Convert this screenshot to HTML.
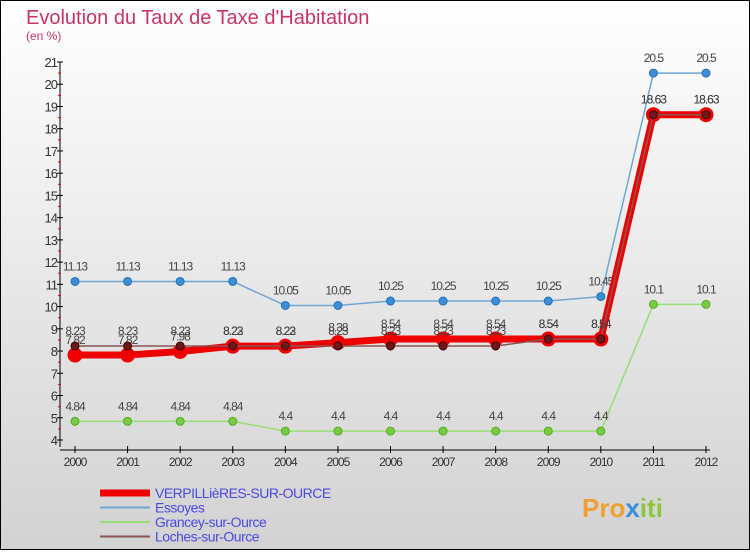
<!DOCTYPE html>
<html><head><meta charset="utf-8"><style>
body{margin:0}
svg text{font-family:"Liberation Sans","DejaVu Sans",sans-serif}
</style></head><body>
<svg width="750" height="550" xmlns="http://www.w3.org/2000/svg">
<defs><linearGradient id="bg" x1="0" y1="0" x2="0" y2="1"><stop offset="0" stop-color="#ffffff"/><stop offset="1" stop-color="#d2d2d2"/></linearGradient></defs>
<rect x="0.5" y="0.5" width="749" height="549" fill="url(#bg)" stroke="#000"/>
<text x="26" y="24" font-size="20" fill="#c8336a">Evolution du Taux de Taxe d'Habitation</text>
<text x="26" y="40" font-size="12" fill="#c8336a">(en %)</text>
<g id="axes"></g>
<g id="series"></g>
<g id="legend"></g>
<text x="582" y="517" font-size="26" font-weight="bold" fill="#f0a030">Pro<tspan fill="#3a8fd8">x</tspan><tspan fill="#8ac640">iti</tspan></text>
</svg>
<script>
const years=[2000,2001,2002,2003,2004,2005,2006,2007,2008,2009,2010,2011,2012];
const verp=[7.82,7.82,7.98,8.22,8.22,8.38,8.54,8.54,8.54,8.54,8.54,18.63,18.63];
const essoyes=[11.13,11.13,11.13,11.13,10.05,10.05,10.25,10.25,10.25,10.25,10.45,20.5,20.5];
const grancey=[4.84,4.84,4.84,4.84,4.4,4.4,4.4,4.4,4.4,4.4,4.4,10.1,10.1];
const loches=[8.23,8.23,8.23,8.23,8.23,8.23,8.23,8.23,8.23,8.54,8.54,18.63,18.63];
const yTicks=[4,5,6,7,8,9,10,11,12,13,14,15,16,17,18,19,20,21];
const NS="http://www.w3.org/2000/svg";
const xs=i=>75+i*(706-75)/(years.length-1);
const ys=v=>440-(v-4)*(378/17);
function mk(tag,attrs,parent,txt){const e=document.createElementNS(NS,tag);for(const k in attrs)e.setAttribute(k,attrs[k]);if(txt!==undefined)e.textContent=txt;parent.appendChild(e);return e;}
const ax=document.getElementById('axes');
let yl=mk('line',{x1:60,y1:ys(21),x2:60,y2:447,stroke:'#000'},ax);


yTicks.forEach(t=>{
 mk('line',{x1:57,y1:ys(t),x2:63,y2:ys(t),stroke:'#000'},ax);
 if(t<21) mk('line',{x1:58,y1:ys(t+0.5),x2:61,y2:ys(t+0.5),stroke:'#e00'},ax);
 let tx=mk('text',{x:57,y:ys(t)+5,'font-size':13,'text-anchor':'end',fill:'#333','letter-spacing':'-1'},ax,t);
 
 
});
let xl=mk('line',{x1:60,y1:450,x2:710,y2:450,stroke:'#000'},ax);


years.forEach((y,i)=>{
 mk('line',{x1:xs(i),y1:446,x2:xs(i),y2:453,stroke:'#000'},ax);
 let tx=mk('text',{x:xs(i),y:466,'font-size':12,'text-anchor':'middle',fill:'#333','letter-spacing':'-1'},ax,y);
 
 
});
const sg=document.getElementById('series');
function draw(name,data,color,w,r,dot,dotStroke){
 const g=mk('g',{},sg);
 
 
 const pts=data.map((v,i)=>xs(i)+','+ys(v)).join(' ');
 mk('polyline',{points:pts,fill:'none',stroke:color,'stroke-width':w,'stroke-linejoin':'round'},g);
 data.forEach((v,i)=>{
  let c=mk('circle',{cx:xs(i),cy:ys(v),r:r,fill:dot,stroke:dotStroke,'stroke-width':1},g);
  
  
  let t=mk('text',{x:xs(i),y:ys(v)-11,'font-size':12,'text-anchor':'middle',fill:'#444','letter-spacing':'-1'},g,v);
  
  
 });
}
draw('grancey',grancey,'#99dd77',1.5,4,'#77cc44','#55aa22');
draw('essoyes',essoyes,'#6ea6d6',1.5,4,'#3a8fd8','#2a6fb0');
draw('verpillieres',verp,'#ee0000',7,7,'#ee0000','#ee0000');
draw('loches',loches,'#8a5555',1.5,4,'#6a1a1a','#400');
const lg=document.getElementById('legend');
const items=[['VERPILLièRES-SUR-OURCE','#ee0000',7],['Essoyes','#6ea6d6',2],['Grancey-sur-Ource','#99dd77',2],['Loches-sur-Ource','#8a5555',2]];
items.forEach((it,i)=>{
 const y=493+i*14.5;
 const g=mk('g',{},lg);
 
 
 mk('line',{x1:100,y1:y,x2:150,y2:y,stroke:it[1],'stroke-width':it[2]},g);
 mk('text',{x:155,y:y+5,'font-size':14,fill:'#4a4ae0','letter-spacing':'-0.5'},g,it[0]);
});
</script>
</body></html>
